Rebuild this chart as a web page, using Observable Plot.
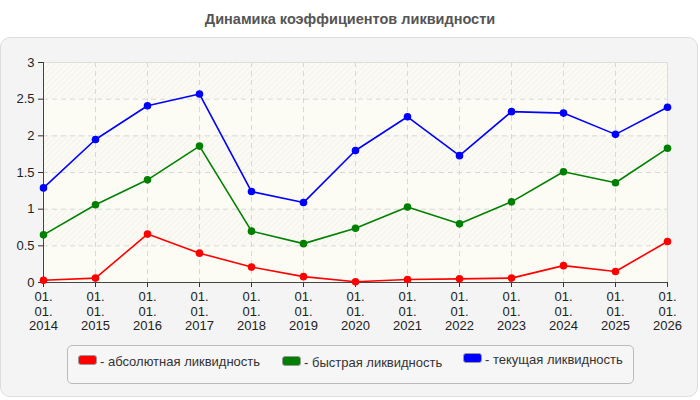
<!DOCTYPE html>
<html>
<head>
<meta charset="utf-8">
<script src="https://cdn.jsdelivr.net/npm/d3@7"></script>
<script src="https://cdn.jsdelivr.net/npm/@observablehq/plot@0.6"></script>
<style>
  body { margin:0; width:700px; height:400px; background:#fff; position:relative; font-family:"Liberation Sans", Arial, sans-serif; overflow:hidden; }
  #title { position:absolute; left:0; top:11px; width:700px; text-align:center; font-weight:bold; font-size:14.5px; color:#555; }
  #panel { position:absolute; left:0; top:37px; width:696px; height:358px; border:1px solid #ddd; border-radius:10px; background:#f4f4f4; }
  #chart { position:absolute; left:0; top:0; }
  #legend { position:absolute; left:66px; top:307px; width:565px; height:37px; border:1px solid #bbb; border-radius:5px; background:#f6f6f6; }
  .item { position:absolute; top:8px; font-size:13px; color:#333; white-space:nowrap; }
  .sw { display:inline-block; width:17px; height:8px; border:1px solid #999; border-radius:3px; vertical-align:1px; margin-right:3px; }
</style>
</head>
<body>
<div id="title">Динамика коэффициентов ликвидности</div>
<div id="panel">
  <div id="chart"></div>
  <div id="legend"></div>
</div>
<script>
const years = [2014, 2015, 2016, 2017, 2018, 2019, 2020, 2021, 2022, 2023, 2024, 2025, 2026];
const absolute = [0.03, 0.06, 0.66, 0.40, 0.21, 0.08, 0.01, 0.04, 0.05, 0.06, 0.23, 0.15, 0.56];
const quick    = [0.65, 1.06, 1.40, 1.86, 0.70, 0.53, 0.74, 1.03, 0.80, 1.10, 1.51, 1.36, 1.83];
const current  = [1.29, 1.95, 2.41, 2.57, 1.24, 1.09, 1.80, 2.26, 1.73, 2.33, 2.31, 2.02, 2.39];
const seriesNames = ["абсолютная ликвидность", "быстрая ликвидность", "текущая ликвидность"];
const seriesColors = ["#ff0000", "#008000", "#0000ff"];
const yTicks = [0, 0.5, 1, 1.5, 2, 2.5, 3];

const seriesValues = [absolute, quick, current];
const rows = seriesValues.flatMap((vals, s) => vals.map((v, i) => ({year: years[i], value: v, series: seriesNames[s]})));
const bands = yTicks.slice(0, -1).map((t, i) => ({y1: t, y2: yTicks[i + 1], hatched: (yTicks.length - 2 - i) % 2 === 0}));

const lineMarks = seriesNames.flatMap((name, s) => [
  Plot.line(rows.filter(d => d.series === name), {x: "year", y: "value", stroke: seriesColors[s], strokeWidth: 1.6}),
  Plot.dot(rows.filter(d => d.series === name), {x: "year", y: "value", fill: seriesColors[s], r: 3.8})
]);

const chart = Plot.plot({
  width: 696,
  height: 297,
  marginLeft: 42,
  marginRight: 30,
  marginTop: 24,
  marginBottom: 53,
  style: {fontFamily: "Liberation Sans, Arial, sans-serif", fontSize: "13px", color: "#333", background: "transparent", overflow: "visible"},
  x: {domain: [years[0], years[years.length - 1]], label: null},
  y: {domain: [yTicks[0], yTicks[yTicks.length - 1]], label: null},
  marks: [
    Plot.rect(bands.filter(b => b.hatched), {y1: "y1", y2: "y2", fill: "#fbfbf3", className: "hatch-band"}),
    Plot.rect(bands.filter(b => !b.hatched), {y1: "y1", y2: "y2", fill: "#fcfcf5"}),
    Plot.gridX(years, {stroke: "#d8d8d8", strokeOpacity: 1, strokeDasharray: "5,4"}),
    Plot.gridY(yTicks, {stroke: "#d8d8d8", strokeOpacity: 1, strokeDasharray: "5,4"}),
    Plot.frame({stroke: "#ddd"}),
    Plot.axisX(years, {tickFormat: d => `01.\n01.\n${d}`, tickSize: 5, tickPadding: 4, stroke: "#333", fill: "#222", lineHeight: 1.08}),
    Plot.axisY(yTicks, {tickFormat: d => String(d), tickSize: 5, tickPadding: 4, stroke: "#333", fill: "#222"}),
    Plot.ruleX([years[0]], {stroke: "#444"}),
    Plot.ruleY([yTicks[0]], {stroke: "#444"}),
    ...lineMarks
  ]
});

// hatch pattern
const svg = d3.select(chart);
const defs = svg.insert("defs", ":first-child");
const pat = defs.append("pattern").attr("id", "hatch").attr("patternUnits", "userSpaceOnUse")
  .attr("width", 4).attr("height", 4).attr("patternTransform", "rotate(45)");
pat.append("rect").attr("width", 4).attr("height", 4).attr("fill", "#fbfbf4");
pat.append("line").attr("x1", 0).attr("y1", 0).attr("x2", 0).attr("y2", 4).attr("stroke", "#eeeee9").attr("stroke-width", 1.2);
svg.selectAll(".hatch-band rect").attr("fill", "url(#hatch)");

document.getElementById("chart").appendChild(chart);

// legend
const lg = document.getElementById("legend");
const lefts = [10, 214, 395];
const tops = [8, 9, 6];
seriesNames.forEach((name, s) => {
  const it = document.createElement("div");
  it.className = "item";
  it.style.left = lefts[s] + "px";
  it.style.top = tops[s] + "px";
  const sw = document.createElement("span");
  sw.className = "sw";
  sw.style.background = seriesColors[s];
  it.appendChild(sw);
  it.appendChild(document.createTextNode("- " + name));
  lg.appendChild(it);
});
</script>
</body>
</html>
